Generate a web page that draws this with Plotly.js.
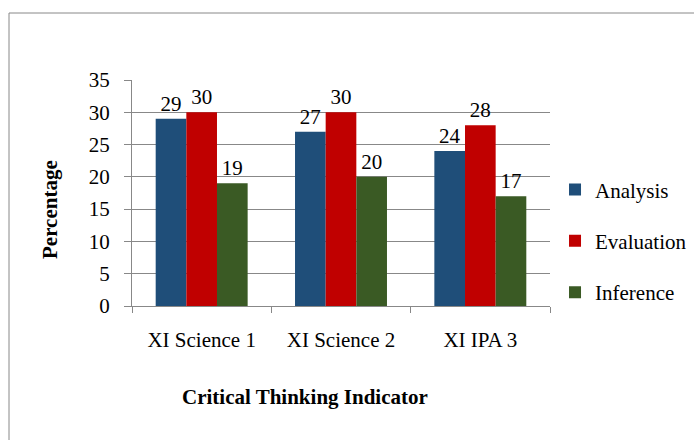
<!DOCTYPE html>
<html>
<head>
<meta charset="utf-8">
<script src="https://cdn.plot.ly/plotly-3.0.1.min.js"></script>
<style>
  html, body { margin: 0; padding: 0; background: #fff; }
  #chart { width: 694px; height: 440px; }
</style>
</head>
<body>
<div id="chart"></div>
<script>
const categories = ["XI Science 1", "XI Science 2", "XI IPA 3"];
const seriesNames = ["Analysis", "Evaluation", "Inference"];
const analysis = [29, 27, 24];
const evaluation = [30, 30, 28];
const inference = [19, 20, 17];
const yTicks = [0, 5, 10, 15, 20, 25, 30, 35];
const xTitle = "Critical Thinking Indicator";
const yTitle = "Percentage";

const colors = ["#1F4E79", "#C00000", "#3A5A24"];
const values = [analysis, evaluation, inference];
const FONT = "Liberation Serif, Times New Roman, serif";

const traces = values.map((v, i) => ({
  type: "bar",
  name: seriesNames[i],
  x: categories,
  y: v,
  text: v.map(String),
  textposition: "outside",
  textfont: { family: FONT, size: 21, color: "#000" },
  cliponaxis: false,
  marker: { color: colors[i], line: { width: 0 } },
  legendgroup: "g" + i,
  hoverinfo: "none"
}));

const layout = {
  width: 694,
  height: 440,
  margin: { l: 132, r: 144, t: 80, b: 134, autoexpand: false },
  paper_bgcolor: "#fff",
  plot_bgcolor: "#fff",
  font: { family: FONT, size: 21, color: "#000" },
  barmode: "group",
  bargap: 0.34,
  bargroupgap: 0,
  showlegend: true,
  legend: {
    x: 1.012, xanchor: "left",
    y: 0.288, yanchor: "middle",
    font: { family: FONT, size: 21, color: "#000" },
    traceorder: "grouped",
    tracegroupgap: 21,
    itemwidth: 30
  },
  xaxis: {
    type: "category",
    showline: true,
    linecolor: "#888888",
    linewidth: 1,
    ticks: "outside",
    tickson: "boundaries",
    ticklen: 6,
    tickcolor: "#888888",
    ticklabelstandoff: 15,
    tickfont: { family: FONT, size: 21, color: "#000" },
    showgrid: false,
    zeroline: false
  },
  yaxis: {
    range: [0, 35],
    tickvals: yTicks,
    ticktext: yTicks.map(String),
    showline: true,
    linecolor: "#888888",
    linewidth: 1,
    ticks: "outside",
    ticklen: 7,
    tickcolor: "#888888",
    ticklabelstandoff: 10,
    tickfont: { family: FONT, size: 21, color: "#000" },
    showgrid: true,
    gridcolor: "#888888",
    gridwidth: 1,
    zeroline: false
  },
  annotations: [
    {
      text: "<b>" + xTitle + "</b>",
      xref: "paper", yref: "paper",
      x: 0.414, y: -0.403,
      xanchor: "center", yanchor: "middle",
      showarrow: false,
      font: { family: FONT, size: 21, color: "#000" }
    },
    {
      text: "<b>" + yTitle + "</b>",
      xref: "paper", yref: "paper",
      x: -0.196, y: 0.425,
      xanchor: "center", yanchor: "middle",
      textangle: -90,
      showarrow: false,
      font: { family: FONT, size: 21, color: "#000" }
    }
  ],
  shapes: [{
    type: "rect",
    xref: "paper", yref: "paper",
    x0: (9 - 132) / 418, x1: 2,
    y0: -1, y1: (306 - 13) / 226,
    line: { color: "#888888", width: 1 },
    fillcolor: "rgba(0,0,0,0)",
    layer: "below"
  }]
};

Plotly.newPlot("chart", traces, layout, { staticPlot: true, displayModeBar: false });
</script>
</body>
</html>
